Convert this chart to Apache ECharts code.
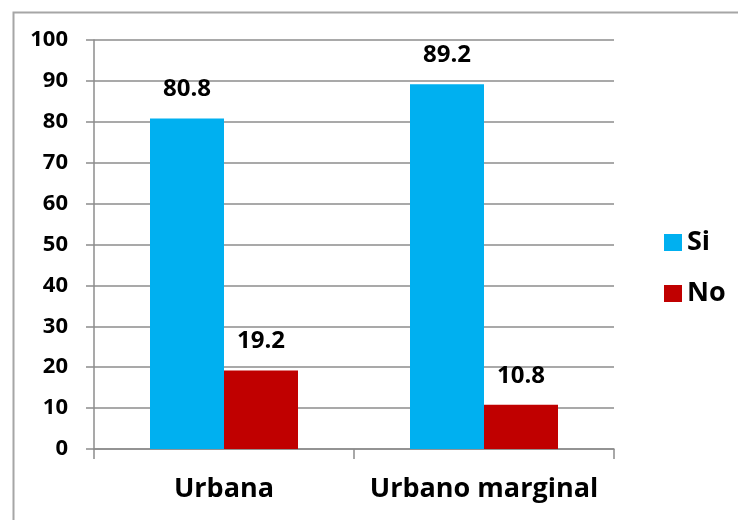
<!DOCTYPE html>
<html><head><meta charset="utf-8">
<script src="https://cdn.jsdelivr.net/npm/echarts@6/dist/echarts.min.js"></script>
<style>html,body{margin:0;padding:0;background:#fff}#c{width:738px;height:520px}</style>
</head><body><div id="c"></div>
<script>
const categories = ['Urbana', 'Urbano marginal'];
const seriesNames = ['Si', 'No'];
const siValues = [80.8, 89.2];
const noValues = [19.2, 10.8];
const yTicks = [0, 10, 20, 30, 40, 50, 60, 70, 80, 90, 100];

const FONT = 'Open Sans';
const chart = echarts.init(document.getElementById('c'), null, {renderer: 'canvas'});
const labelStyle = {show: true, position: 'top', distance: 17, color: '#000', fontFamily: FONT, fontWeight: 'bold', fontSize: 24, formatter: p => p.value.toFixed(1)};
chart.setOption({
  animation: false,
  backgroundColor: '#fff',
  graphic: [{type: 'rect', left: 11, top: 10, shape: {width: 800, height: 600}, style: {fill: 'none', stroke: '#a6a6a6', lineWidth: 2}, silent: true}],
  grid: {left: 94, right: 124, top: 40, bottom: 71},
  legend: {
    orient: 'vertical', left: 659, top: 224, itemWidth: 18, itemHeight: 17, itemGap: 24, icon: 'rect',
    textStyle: {fontFamily: FONT, fontWeight: 'bold', fontSize: 27, color: '#000', padding: [0,0,0,0]},
    data: seriesNames
  },
  xAxis: {
    type: 'category', data: categories,
    axisLine: {lineStyle: {color: '#8c8c8c', width: 1.5}},
    axisTick: {show: true, length: 10, lineStyle: {color: '#8c8c8c', width: 1.5}},
    axisLabel: {interval: 0, hideOverlap: false, color: '#000', fontFamily: FONT, fontWeight: 'bold', fontSize: 27, margin: 27}
  },
  yAxis: {
    type: 'value', min: yTicks[0], max: yTicks[yTicks.length - 1], interval: 10,
    axisLine: {show: true, lineStyle: {color: '#8c8c8c', width: 1.5}},
    axisTick: {show: true, length: 8, lineStyle: {color: '#8c8c8c', width: 1.5}},
    axisLabel: {color: '#000', fontFamily: FONT, fontWeight: 'bold', fontSize: 22, margin: 26},
    splitLine: {lineStyle: {color: '#8c8c8c', width: 1.5}}
  },
  series: [
    {name: seriesNames[0], type: 'bar', data: siValues, barWidth: 74, barGap: '0%', itemStyle: {color: '#00B0F0'}, label: labelStyle},
    {name: seriesNames[1], type: 'bar', data: noValues, barWidth: 74, barGap: '0%', itemStyle: {color: '#C00000'}, label: labelStyle}
  ]
});
</script></body></html>
